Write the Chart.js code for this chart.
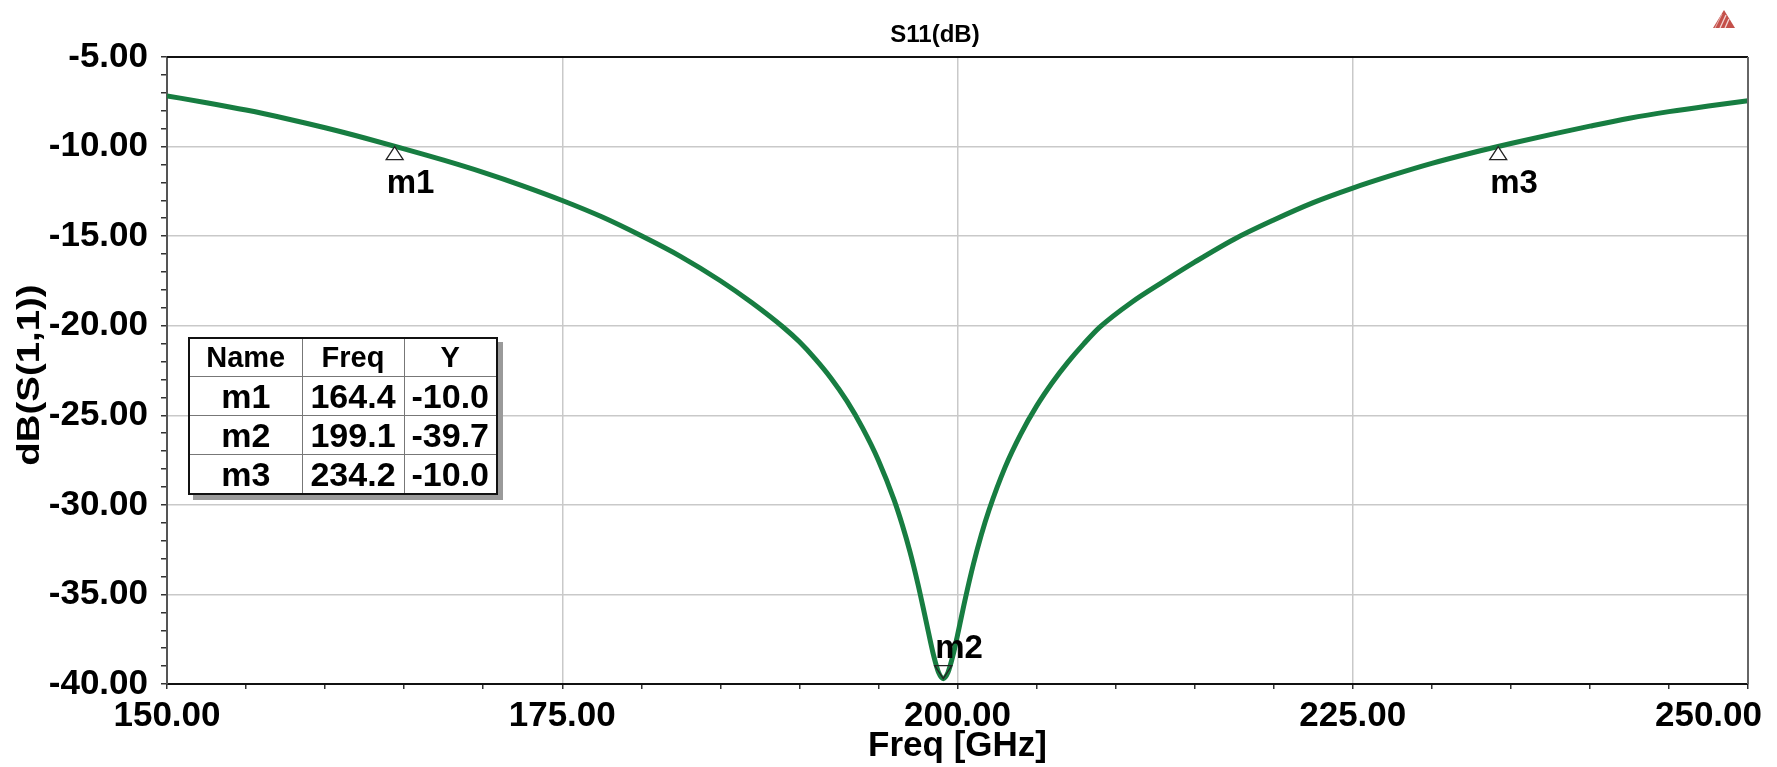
<!DOCTYPE html>
<html>
<head>
<meta charset="utf-8">
<script src="https://cdn.jsdelivr.net/npm/chart.js@4.4.1/dist/chart.umd.min.js"></script>
<style>
  html, body { margin: 0; padding: 0; background: #fff; }
  body { width: 1777px; height: 767px; position: relative; overflow: hidden; font-family: "Liberation Sans", Arial, sans-serif; }
  #plot { position: absolute; left: 0; top: 0; }
  #logo { position: absolute; left: 1712px; top: 9px; }
  #title {
    position: absolute; left: 835px; width: 200px; top: 20px;
    text-align: center; font-weight: bold; font-size: 24px; line-height: 28px; color: #000;
  }
  #ytitle {
    position: absolute; left: -72px; top: 357px; width: 200px; height: 36px;
    text-align: center; font-weight: bold; font-size: 32px; line-height: 36px; color: #000;
    transform: rotate(-90deg) scaleX(1.2); white-space: nowrap;
  }
  #markerTable {
    position: absolute; left: 188px; top: 337px;
    border-collapse: collapse; table-layout: fixed; background: #fff;
    border: 2px solid #111; box-shadow: 5px 5px 0 #9a9a9a;
  }
  #markerTable td { border: 1px solid #777; text-align: center; font-weight: bold; padding: 0; color: #000; line-height: 1; }
  #markerTable tr.head td { font-size: 29px; height: 37px; }
  #markerTable tr.row td { font-size: 34px; height: 38px; }
</style>
</head>
<body>
<canvas id="plot" width="1777" height="767"></canvas>
<div id="title">S11(dB)</div>
<div id="ytitle">dB(S(1,1))</div>
<svg id="logo" width="24" height="20" viewBox="0 0 24 20">
  <polygon points="12,1 23,19 1,19" fill="#c4504a"/>
  <line x1="8" y1="19" x2="14" y2="6" stroke="#f3d6d4" stroke-width="1.3"/>
  <line x1="13" y1="19" x2="17" y2="10" stroke="#f3d6d4" stroke-width="1.3"/>
  <line x1="3" y1="19" x2="10" y2="5" stroke="#e8b4b0" stroke-width="1"/>
</svg>
<table id="markerTable">
  <colgroup><col style="width:113px"><col style="width:102px"><col style="width:93px"></colgroup>
  <tbody id="markerBody"></tbody>
</table>
<script>
// S11 sweep (GHz, dB)
const FREQ_GHZ = [150, 152.5, 155, 157.5, 160, 162.5, 165, 167.5, 170, 172.5, 175, 177.5, 180, 182.5, 185, 187,
  189, 190, 191, 192, 193, 194, 195, 196, 196.5, 197, 197.5, 198, 198.5, 198.8, 199.1, 199.4, 199.7,
  200, 200.5, 201, 201.5, 202, 203, 204, 205, 206, 207, 208, 209, 211, 213, 215, 217.5, 220, 222.5,
  225, 227.5, 230, 232.5, 235, 237.5, 240, 242.5, 245, 247.5, 250];
const S11_DB = [-7.17, -7.55, -7.96, -8.43, -8.95, -9.52, -10.13, -10.76, -11.44, -12.19, -13.01, -13.92, -14.98, -16.14, -17.49, -18.72,
  -20.1, -20.9, -21.85, -22.93, -24.2, -25.72, -27.52, -29.75, -31.1, -32.64, -34.43, -36.44, -38.45, -39.35, -39.7, -39.35, -38.45,
  -37.28, -35.21, -33.33, -31.69, -30.27, -27.92, -26.05, -24.49, -23.17, -22.02, -21.0, -20.08, -18.7, -17.55, -16.45, -15.17, -14.1, -13.13,
  -12.32, -11.6, -10.94, -10.36, -9.83, -9.33, -8.86, -8.42, -8.05, -7.73, -7.44];

const MARKER_NAMES = ['m1', 'm2', 'm3'];
const MARKER_FREQ = [164.4, 199.1, 234.2];
const MARKER_DB = [-10.0, -39.7, -10.0];

const X_MIN = 150, X_MAX = 250, X_MAJOR = 25, X_MINOR = 5;
const Y_MIN = -40, Y_MAX = -5, Y_MAJOR = 5, Y_MINOR = 1;

const FONT = '"Liberation Sans", Arial, sans-serif';
const GRID = '#c9c9c9';
const CURVE = '#177d41';

// marker table
document.getElementById('markerBody').innerHTML =
  '<tr class="head"><td>Name</td><td>Freq</td><td>Y</td></tr>' +
  MARKER_NAMES.map((n, i) =>
    `<tr class="row"><td>${n}</td><td>${MARKER_FREQ[i].toFixed(1)}</td><td>${MARKER_DB[i].toFixed(1)}</td></tr>`
  ).join('');

const isMajor = (v, step) => Math.abs(v / step - Math.round(v / step)) < 1e-6;

// top/right frame, last x label, markers
const framePlugin = {
  id: 'frame',
  afterDraw(chart) {
    const { ctx, chartArea: a, scales: { x, y } } = chart;
    ctx.save();
    ctx.lineWidth = 2;
    ctx.strokeStyle = '#111';
    ctx.beginPath(); ctx.moveTo(a.left, a.top); ctx.lineTo(a.right, a.top); ctx.stroke();
    ctx.strokeStyle = '#666';
    ctx.beginPath(); ctx.moveTo(a.right, a.top); ctx.lineTo(a.right, a.bottom); ctx.stroke();

    // last x label is pulled inside the window, as in the original
    ctx.font = `bold 35px ${FONT}`;
    ctx.fillStyle = '#000';
    ctx.textAlign = 'right';
    ctx.textBaseline = 'middle';
    ctx.fillText(X_MAX.toFixed(2), x.getPixelForValue(X_MAX) + 14, x.top + 5 + 6 + 21);

    // markers
    ctx.font = `bold 33px ${FONT}`;
    ctx.textAlign = 'left';
    ctx.textBaseline = 'alphabetic';
    MARKER_FREQ.forEach((f, i) => {
      const px = x.getPixelForValue(f);
      const py = y.getPixelForValue(MARKER_DB[i]);
      const down = MARKER_DB[i] < Y_MIN + 3;   // near the floor: label above, triangle points down
      const dir = down ? -1 : 1;
      ctx.beginPath();
      ctx.moveTo(px, py);
      ctx.lineTo(px - 8.5, py + dir * 13);
      ctx.lineTo(px + 8.5, py + dir * 13);
      ctx.closePath();
      if (!down) { ctx.fillStyle = '#fff'; ctx.fill(); }
      ctx.lineWidth = 1.3;
      ctx.strokeStyle = '#222';
      ctx.stroke();
      ctx.fillStyle = '#000';
      ctx.fillText(MARKER_NAMES[i], px - 8, down ? py - 21 : py + 46);
    });
    ctx.restore();
  }
};

new Chart(document.getElementById('plot'), {
  type: 'line',
  data: {
    datasets: [{
      data: FREQ_GHZ.map((f, i) => ({ x: f, y: S11_DB[i] })),
      borderColor: CURVE,
      borderWidth: 5,
      pointRadius: 0,
      cubicInterpolationMode: 'monotone',
      fill: false
    }]
  },
  options: {
    responsive: false,
    animation: false,
    devicePixelRatio: 1,
    layout: { padding: { left: 0, right: 29, top: 57, bottom: 0 } },
    plugins: {
      legend: { display: false },
      tooltip: { enabled: false },
      title: { display: false }
    },
    scales: {
      x: {
        type: 'linear',
        min: X_MIN, max: X_MAX,
        afterFit: s => { s.height = 83; },
        ticks: {
          stepSize: X_MINOR,
          autoSkip: false,
          maxRotation: 0,
          padding: 6,
          color: '#000',
          font: { family: FONT, size: 35, weight: 'bold' },
          callback: v => (isMajor(v, X_MAJOR) && v !== X_MAX) ? v.toFixed(2) : ''
        },
        grid: {
          color: c => (c.tick && isMajor(c.tick.value, X_MAJOR)) ? GRID : 'rgba(0,0,0,0)',
          tickColor: '#333',
          tickLength: 5,
          lineWidth: 1.5
        },
        border: { display: true, color: '#111', width: 2 },
        title: {
          display: true,
          text: 'Freq [GHz]',
          color: '#000',
          font: { family: FONT, size: 35, weight: 'bold', lineHeight: 1.2 },
          padding: { top: 0, bottom: 0 }
        }
      },
      y: {
        min: Y_MIN, max: Y_MAX,
        afterFit: s => { s.width = 167; },
        ticks: {
          stepSize: Y_MINOR,
          autoSkip: false,
          padding: 13,
          color: '#000',
          font: { family: FONT, size: 35, weight: 'bold' },
          callback: v => isMajor(v, Y_MAJOR) ? v.toFixed(2) : ''
        },
        grid: {
          color: c => (c.tick && isMajor(c.tick.value, Y_MAJOR)) ? GRID : 'rgba(0,0,0,0)',
          tickColor: '#333',
          tickLength: 6,
          lineWidth: 1.5
        },
        border: { display: true, color: '#555', width: 2 }
      }
    }
  },
  plugins: [framePlugin]
});
</script>
</body>
</html>
